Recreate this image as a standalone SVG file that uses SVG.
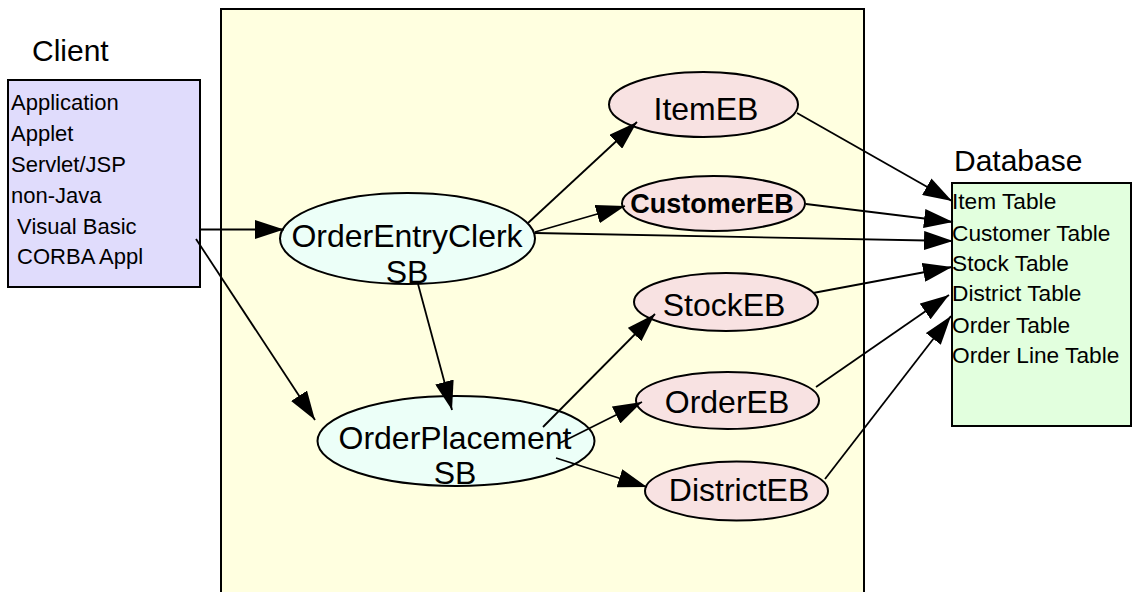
<svg xmlns="http://www.w3.org/2000/svg" width="1132" height="592" viewBox="0 0 1132 592">
<defs>
<style>
.t{font-family:"Liberation Sans",Arial,sans-serif;fill:#000}
.title{font-size:30px}
.list{font-size:22px}
.dbl{font-size:22.7px}
.sb{fill:#ECFFF8;stroke:#000;stroke-width:2}
.eb{fill:#F8E2E2;stroke:#000;stroke-width:2}
.big{font-size:32px;text-anchor:middle}
.c{stroke:#000;stroke-width:1.8;fill:none;marker-end:url(#ah)}
</style>
<marker id="ah" markerUnits="userSpaceOnUse" markerWidth="29" markerHeight="19" refX="29" refY="9.5" orient="auto">
<path d="M0,0 L29,9.5 L0,19 z" fill="#000"/>
</marker>
</defs>
<rect width="1132" height="592" fill="#fff"/>
<g id="container">
<rect x="221" y="9" width="643" height="600" fill="#FFFFE0" stroke="#000" stroke-width="2"/>
</g>
<g id="client">
<text class="t title" x="32" y="61">Client</text>
<rect x="8" y="80" width="192" height="207" fill="#E0DCFC" stroke="#000" stroke-width="2"/>
<text class="t list" x="11" y="110">Application</text>
<text class="t list" x="11" y="141">Applet</text>
<text class="t list" x="11" y="172">Servlet/JSP</text>
<text class="t list" x="11" y="203">non-Java</text>
<text class="t list" x="11" y="234" xml:space="preserve"> Visual Basic</text>
<text class="t list" x="11" y="264" xml:space="preserve"> CORBA Appl</text>
</g>
<g id="database">
<text class="t title" x="954" y="171">Database</text>
<rect x="952" y="183" width="179" height="243" fill="#E2FFDE" stroke="#000" stroke-width="2"/>
<text class="t dbl" x="952" y="209">Item Table</text>
<text class="t dbl" x="952" y="241">Customer Table</text>
<text class="t dbl" x="952" y="271">Stock Table</text>
<text class="t dbl" x="952" y="301">District Table</text>
<text class="t dbl" x="952" y="333">Order Table</text>
<text class="t dbl" x="952" y="363">Order Line Table</text>
</g>
<g id="OrderEntryClerk">
<ellipse class="sb" cx="407.5" cy="238.5" rx="127.5" ry="45.5"/>
<text class="t big" x="407" y="247">OrderEntryClerk</text>
<text class="t big" x="407" y="283">SB</text>
</g>
<g id="OrderPlacement">
<ellipse class="sb" cx="456" cy="441" rx="138.5" ry="45"/>
<text class="t big" x="455" y="449">OrderPlacement</text>
<text class="t big" x="455" y="484">SB</text>
</g>
<g id="ItemEB">
<ellipse class="eb" cx="703.5" cy="104.5" rx="94.5" ry="32.5"/>
<text class="t big" x="706" y="120">ItemEB</text>
</g>
<g id="CustomerEB">
<ellipse class="eb" cx="713.5" cy="203.5" rx="91.5" ry="27.5"/>
<text class="t" x="712" y="213" font-size="27" font-weight="bold" text-anchor="middle">CustomerEB</text>
</g>
<g id="StockEB">
<ellipse class="eb" cx="726" cy="302" rx="92" ry="29"/>
<text class="t big" x="724" y="316">StockEB</text>
</g>
<g id="OrderEB">
<ellipse class="eb" cx="727.5" cy="400.5" rx="91.5" ry="28.5"/>
<text class="t big" x="727" y="413">OrderEB</text>
</g>
<g id="DistrictEB">
<ellipse class="eb" cx="736.5" cy="491" rx="91.5" ry="29.5"/>
<text class="t big" x="739" y="501">DistrictEB</text>
</g>
<g id="connectors">
<line class="c" x1="200" y1="229.5" x2="284" y2="229.5"/>
<line class="c" x1="196" y1="239" x2="315" y2="420"/>
<line class="c" x1="528" y1="223" x2="637" y2="122"/>
<line class="c" x1="535" y1="232" x2="625" y2="206"/>
<line class="c" x1="535" y1="233" x2="953" y2="241"/>
<line class="c" x1="418" y1="284" x2="452" y2="410"/>
<line class="c" x1="543" y1="427" x2="655" y2="314"/>
<line class="c" x1="560" y1="443" x2="642" y2="402"/>
<line class="c" x1="556" y1="458" x2="647" y2="487"/>
<line class="c" x1="797" y1="113" x2="952" y2="201"/>
<line class="c" x1="806" y1="204" x2="953" y2="222"/>
<line class="c" x1="813" y1="293" x2="952" y2="267"/>
<line class="c" x1="816" y1="387" x2="949" y2="295"/>
<line class="c" x1="825" y1="479" x2="951" y2="316"/>
</g>
</svg>
